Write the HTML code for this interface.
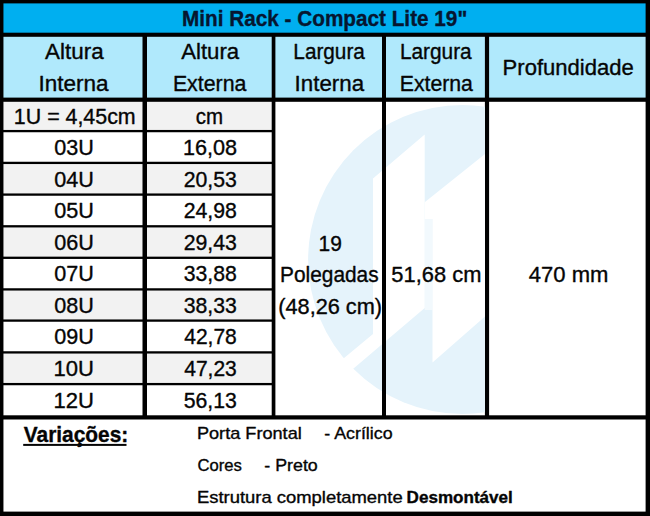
<!DOCTYPE html>
<html lang="pt-BR"><head><meta charset="utf-8"><title>Mini Rack - Compact Lite 19&quot;</title>
<style>
html,body{margin:0;padding:0;}
body{width:650px;height:516px;position:relative;overflow:hidden;background:#000;font-family:'Liberation Sans',sans-serif;color:#050505;}
svg{display:block;}
</style></head>
<body>
<svg width="650" height="516" viewBox="0 0 650 516" style="position:absolute;left:0;top:0">
<!-- frame / grid lines -->
<rect x="0.00" y="0.00" width="650.00" height="516.00" fill="#000"/>
<!-- title band -->
<rect x="3.45" y="3.40" width="642.15" height="29.30" fill="#00aff0"/>
<!-- header cells -->
<rect x="3.45" y="36.80" width="139.05" height="60.80" fill="#b0e9fc"/>
<rect x="147.00" y="36.80" width="124.70" height="60.80" fill="#b0e9fc"/>
<rect x="275.40" y="36.80" width="106.60" height="60.80" fill="#b0e9fc"/>
<rect x="386.00" y="36.80" width="98.90" height="60.80" fill="#b0e9fc"/>
<rect x="489.10" y="36.80" width="156.50" height="60.80" fill="#b0e9fc"/>
<!-- zebra rows -->
<rect x="3.45" y="101.80" width="139.05" height="28.15" fill="#f2f2f2"/>
<rect x="147.00" y="101.80" width="124.70" height="28.15" fill="#f2f2f2"/>
<rect x="3.45" y="132.25" width="139.05" height="29.50" fill="#ffffff"/>
<rect x="147.00" y="132.25" width="124.70" height="29.50" fill="#ffffff"/>
<rect x="3.45" y="164.05" width="139.05" height="29.40" fill="#f2f2f2"/>
<rect x="147.00" y="164.05" width="124.70" height="29.40" fill="#f2f2f2"/>
<rect x="3.45" y="195.75" width="139.05" height="29.40" fill="#ffffff"/>
<rect x="147.00" y="195.75" width="124.70" height="29.40" fill="#ffffff"/>
<rect x="3.45" y="227.45" width="139.05" height="29.20" fill="#f2f2f2"/>
<rect x="147.00" y="227.45" width="124.70" height="29.20" fill="#f2f2f2"/>
<rect x="3.45" y="258.95" width="139.05" height="29.30" fill="#ffffff"/>
<rect x="147.00" y="258.95" width="124.70" height="29.30" fill="#ffffff"/>
<rect x="3.45" y="290.55" width="139.05" height="28.90" fill="#f2f2f2"/>
<rect x="147.00" y="290.55" width="124.70" height="28.90" fill="#f2f2f2"/>
<rect x="3.45" y="321.75" width="139.05" height="29.50" fill="#ffffff"/>
<rect x="147.00" y="321.75" width="124.70" height="29.50" fill="#ffffff"/>
<rect x="3.45" y="353.55" width="139.05" height="29.40" fill="#f2f2f2"/>
<rect x="147.00" y="353.55" width="124.70" height="29.40" fill="#f2f2f2"/>
<rect x="3.45" y="385.25" width="139.05" height="30.05" fill="#ffffff"/>
<rect x="147.00" y="385.25" width="124.70" height="30.05" fill="#ffffff"/>
<!-- merged cells -->
<rect x="275.40" y="101.80" width="106.60" height="313.50" fill="#ffffff"/>
<rect x="386.00" y="101.80" width="98.90" height="313.50" fill="#ffffff"/>
<rect x="489.10" y="101.80" width="156.50" height="313.50" fill="#ffffff"/>
<!-- watermark logo -->
<clipPath id="wmclip"><rect x="275.40" y="101.8" width="209.50" height="313.50"/></clipPath>
<g clip-path="url(#wmclip)">
<circle cx="462.5" cy="259.5" r="154.4" fill="#e5f3fb"/>
<polygon fill="#fff" points="424.7,134.5 424.7,308 330,388.4 320,378 373,334 373,178.5"/>
<polygon fill="#fff" points="424.7,202.3 490,150 490,312 432.5,362.5 432.5,219 424.7,219"/>
<rect x="424.7" y="219" width="7.8" height="91" fill="#fff" opacity="0.5"/>
</g>
<!-- column rules over watermark -->
<rect x="382.00" y="100.80" width="4.00" height="315.50" fill="#000"/>
<!-- footer -->
<rect x="3.45" y="419.50" width="642.15" height="92.10" fill="#ffffff"/>
<rect x="23.20" y="443.90" width="103.30" height="2.00" fill="#050505"/>
</svg>
<svg class="txt" width="650" height="516" viewBox="0 0 650 516" style="position:absolute;left:0;top:0" font-family="'Liberation Sans', sans-serif" fill="#050505" stroke="#050505" stroke-width="0.35" stroke-linejoin="round" xml:space="preserve">
<text x="182.06" y="25.60" font-size="21.6" textLength="285.18" lengthAdjust="spacingAndGlyphs" font-weight="bold" fill="#061630" stroke="#061630">Mini Rack - Compact Lite 19"</text>
<text x="45.11" y="58.60" font-size="21.3" textLength="58.50" lengthAdjust="spacingAndGlyphs">Altura</text>
<text x="38.40" y="91.30" font-size="21.3" textLength="70.04" lengthAdjust="spacingAndGlyphs">Interna</text>
<text x="181.20" y="58.70" font-size="21.3" textLength="57.99" lengthAdjust="spacingAndGlyphs">Altura</text>
<text x="172.90" y="91.40" font-size="21.3" textLength="73.48" lengthAdjust="spacingAndGlyphs">Externa</text>
<text x="293.35" y="58.70" font-size="21.3" textLength="71.52" lengthAdjust="spacingAndGlyphs">Largura</text>
<text x="294.61" y="91.40" font-size="21.3" textLength="69.45" lengthAdjust="spacingAndGlyphs">Interna</text>
<text x="399.88" y="58.70" font-size="21.3" textLength="71.83" lengthAdjust="spacingAndGlyphs">Largura</text>
<text x="399.78" y="91.40" font-size="21.3" textLength="73.17" lengthAdjust="spacingAndGlyphs">Externa</text>
<text x="502.59" y="74.70" font-size="21.3" textLength="131.17" lengthAdjust="spacingAndGlyphs">Profundidade</text>
<text x="13.88" y="123.50" font-size="21.3" textLength="121.77" lengthAdjust="spacingAndGlyphs">1U = 4,45cm</text>
<text x="195.81" y="123.50" font-size="21.3" textLength="27.28" lengthAdjust="spacingAndGlyphs">cm</text>
<text x="318.61" y="250.80" font-size="21.3" textLength="23.33" lengthAdjust="spacingAndGlyphs">19</text>
<text x="280.11" y="281.60" font-size="21.3" textLength="98.53" lengthAdjust="spacingAndGlyphs">Polegadas</text>
<text x="278.25" y="314.30" font-size="21.3" textLength="103.80" lengthAdjust="spacingAndGlyphs">(48,26 cm)</text>
<text x="391.37" y="282.20" font-size="21.3" textLength="90.03" lengthAdjust="spacingAndGlyphs">51,68 cm</text>
<text x="528.87" y="282.20" font-size="21.3" textLength="79.60" lengthAdjust="spacingAndGlyphs">470 mm</text>
<text x="23.75" y="441.80" font-size="21.8" textLength="104.53" lengthAdjust="spacingAndGlyphs" font-weight="bold" class="u">Variações:</text>
<text x="196.91" y="438.80" font-size="16.4" textLength="104.85" lengthAdjust="spacingAndGlyphs">Porta Frontal</text>
<text x="324.37" y="438.80" font-size="16.4" textLength="68.17" lengthAdjust="spacingAndGlyphs">- Acrílico</text>
<text x="197.53" y="470.60" font-size="16.4" textLength="44.43" lengthAdjust="spacingAndGlyphs">Cores</text>
<text x="264.27" y="470.60" font-size="16.4" textLength="53.50" lengthAdjust="spacingAndGlyphs">- Preto</text>
<text x="196.93" y="503.20" font-size="16.4" textLength="205.80" lengthAdjust="spacingAndGlyphs">Estrutura completamente</text>
<text x="406.64" y="503.10" font-size="16.4" textLength="106.12" lengthAdjust="spacingAndGlyphs" font-weight="bold">Desmontável</text>
<text x="54.33" y="155.30" font-size="21.3" textLength="39.59" lengthAdjust="spacingAndGlyphs">03U</text>
<text x="183.00" y="155.30" font-size="21.3" textLength="54.16" lengthAdjust="spacingAndGlyphs">16,08</text>
<text x="54.33" y="186.50" font-size="21.3" textLength="39.59" lengthAdjust="spacingAndGlyphs">04U</text>
<text x="183.64" y="186.50" font-size="21.3" textLength="53.16" lengthAdjust="spacingAndGlyphs">20,53</text>
<text x="54.33" y="218.20" font-size="21.3" textLength="39.59" lengthAdjust="spacingAndGlyphs">05U</text>
<text x="183.64" y="218.20" font-size="21.3" textLength="53.13" lengthAdjust="spacingAndGlyphs">24,98</text>
<text x="54.33" y="249.60" font-size="21.3" textLength="39.59" lengthAdjust="spacingAndGlyphs">06U</text>
<text x="183.64" y="249.60" font-size="21.3" textLength="53.16" lengthAdjust="spacingAndGlyphs">29,43</text>
<text x="54.33" y="281.10" font-size="21.3" textLength="39.59" lengthAdjust="spacingAndGlyphs">07U</text>
<text x="183.68" y="281.10" font-size="21.3" textLength="53.10" lengthAdjust="spacingAndGlyphs">33,88</text>
<text x="54.33" y="312.90" font-size="21.3" textLength="39.59" lengthAdjust="spacingAndGlyphs">08U</text>
<text x="183.67" y="312.90" font-size="21.3" textLength="53.14" lengthAdjust="spacingAndGlyphs">38,33</text>
<text x="54.33" y="344.40" font-size="21.3" textLength="39.59" lengthAdjust="spacingAndGlyphs">09U</text>
<text x="184.20" y="344.40" font-size="21.3" textLength="52.62" lengthAdjust="spacingAndGlyphs">42,78</text>
<text x="53.59" y="376.40" font-size="21.3" textLength="40.42" lengthAdjust="spacingAndGlyphs">10U</text>
<text x="184.20" y="376.40" font-size="21.3" textLength="52.62" lengthAdjust="spacingAndGlyphs">47,23</text>
<text x="53.59" y="408.40" font-size="21.3" textLength="40.42" lengthAdjust="spacingAndGlyphs">12U</text>
<text x="183.69" y="408.40" font-size="21.3" textLength="53.12" lengthAdjust="spacingAndGlyphs">56,13</text>
</svg>
</body></html>
